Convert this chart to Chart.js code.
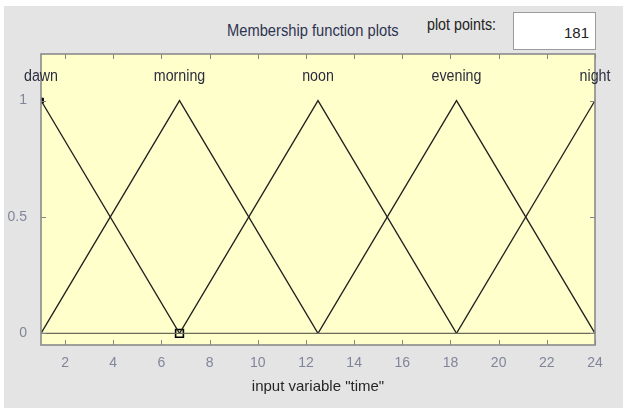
<!DOCTYPE html>
<html>
<head>
<meta charset="utf-8">
<script src="https://cdn.jsdelivr.net/npm/chart.js@4/dist/chart.umd.min.js"></script>
<style>
  html, body { margin: 0; padding: 0; background: #ffffff; }
  #wrap { position: relative; width: 628px; height: 408px; overflow: hidden; }
  #panel { position: absolute; left: 4px; top: 6px; width: 619px; height: 402px; background: #e4e4e4; }
  #mfc { position: absolute; left: 0; top: 0; }
  .lbl { position: absolute; font-family: "Liberation Sans", Arial, sans-serif; font-size: 15px; white-space: nowrap; line-height: 1; }
  #ttl { left: 227px; top: 22px; color: #2e3450; transform-origin: 0 50%; transform: scale(0.98, 1.1); }
  #pp { left: 427px; top: 17px; color: #222; font-size: 14px; transform-origin: 0 50%; transform: scale(1.02, 1.15); }
  #box { position: absolute; left: 513px; top: 12px; width: 83px; height: 38px; background: #fff;
         border: 1px solid #9a9a9a; box-sizing: border-box; }
  #box span { position: absolute; right: 6px; top: 12px; font-family: "Liberation Sans", Arial, sans-serif;
              font-size: 15px; color: #222; line-height: 1; }
</style>
</head>
<body>
<div id="wrap">
  <div id="panel"></div>
  <div class="lbl" id="ttl">Membership function plots</div>
  <div class="lbl" id="pp">plot points:</div>
  <div id="box"><span id="ppv"></span></div>
  <canvas id="mfc" width="628" height="408"></canvas>
</div>
<script>
// Input variable "time": five triangular membership functions [a, b, c]
const mfNames = ['dawn', 'morning', 'noon', 'evening', 'night'];
const mfParams = [
  [-4.75, 1, 6.75],
  [1, 6.75, 12.5],
  [6.75, 12.5, 18.25],
  [12.5, 18.25, 24],
  [18.25, 24, 29.75]
];
const xRange = [1, 24];
const yRange = [-0.05, 1.2];
const xTicks = [2, 4, 6, 8, 10, 12, 14, 16, 18, 20, 22, 24];
const yTicks = [0, 0.5, 1];
const plotPoints = 181;
const xLabel = 'input variable "time"';

document.getElementById('ppv').textContent = String(plotPoints);

const FONT = '"Liberation Sans", Arial, sans-serif';

// one dataset per membership function: vertices of the triangle
const mfSets = mfParams.map((p, i) => ({
  label: mfNames[i],
  data: [{x: p[0], y: 0}, {x: p[1], y: 1}, {x: p[2], y: 0}],
  borderColor: '#222222',
  borderWidth: 1.3,
  pointRadius: 0,
  tension: 0,
  fill: false
}));

// vertex handles of the selected function (dawn)
const selected = 0;
const handleSets = [
  {
    label: 'peak handle',
    data: [{x: xRange[0], y: 1}],
    showLine: false,
    pointStyle: 'rect',
    pointRadius: 3.4,
    pointBackgroundColor: '#000',
    pointBorderColor: '#000',
    pointBorderWidth: 1
  },
  {
    label: 'foot handle',
    data: [{x: mfParams[selected][2], y: 0}],
    showLine: false,
    pointStyle: 'rect',
    pointRadius: 5.5,
    pointBackgroundColor: 'rgba(0,0,0,0)',
    pointBorderColor: '#000',
    pointBorderWidth: 1.6
  }
];

const zeroLine = {
  label: 'zero',
  data: [{x: xRange[0], y: 0}, {x: xRange[1], y: 0}],
  borderColor: '#6a6a58',
  borderWidth: 1.4,
  pointRadius: 0
};

// yellow axes background, box and inward tick marks
const axesDecor = {
  id: 'axesDecor',
  beforeDatasetsDraw(chart) {
    const {ctx, chartArea: a} = chart;
    ctx.save();
    ctx.fillStyle = '#ffffcc';
    ctx.fillRect(a.left, a.top, a.right - a.left, a.bottom - a.top);
    ctx.restore();
  },
  afterDatasetsDraw(chart) {
    const {ctx, chartArea: a, scales} = chart;
    ctx.save();
    ctx.strokeStyle = '#858585';
    ctx.lineWidth = 1;
    ctx.beginPath();
    xTicks.forEach(v => {
      const px = Math.round(scales.x.getPixelForValue(v)) + 0.5;
      ctx.moveTo(px, a.bottom); ctx.lineTo(px, a.bottom - 5);
      ctx.moveTo(px, a.top); ctx.lineTo(px, a.top + 5);
    });
    yTicks.forEach(v => {
      const py = Math.round(scales.y.getPixelForValue(v)) + 0.5;
      ctx.moveTo(a.left, py); ctx.lineTo(a.left + 5, py);
      ctx.moveTo(a.right, py); ctx.lineTo(a.right - 5, py);
    });
    ctx.stroke();
    ctx.lineWidth = 1.6;
    ctx.strokeStyle = '#8a8a8a';
    ctx.strokeRect(a.left, a.top, a.right - a.left, a.bottom - a.top);
    ctx.restore();
  },
  afterDraw(chart) {
    const {ctx, scales} = chart;
    ctx.save();
    ctx.font = '15px ' + FONT;
    ctx.fillStyle = '#2b2e3c';
    ctx.textAlign = 'center';
    ctx.textBaseline = 'middle';
    mfParams.forEach((p, i) => {
      const px = scales.x.getPixelForValue(p[1]);
      ctx.save();
      ctx.translate(px, 76);
      ctx.scale(0.95, 1.1);
      ctx.fillText(mfNames[i], 0, 0);
      ctx.restore();
    });
    ctx.restore();
  }
};

new Chart(document.getElementById('mfc'), {
  type: 'line',
  data: { datasets: [zeroLine, ...mfSets, ...handleSets] },
  options: {
    responsive: false,
    animation: false,
    parsing: false,
    layout: { padding: { left: 0, top: 54, right: 33, bottom: 0 } },
    plugins: { legend: { display: false }, tooltip: { enabled: false } },
    scales: {
      x: {
        type: 'linear',
        min: xRange[0],
        max: xRange[1],
        afterBuildTicks: s => { s.ticks = xTicks.map(v => ({value: v})); },
        afterFit: s => { s.height = 63; },
        grid: { display: false },
        border: { display: false },
        ticks: { font: { family: FONT, size: 14 }, color: '#80859a', padding: 2, maxRotation: 0,
                 callback: v => String(v) },
        title: {
          display: true,
          text: xLabel,
          font: { family: FONT, size: 15 },
          color: '#262626',
          padding: { top: 2, bottom: 12 }
        }
      },
      y: {
        type: 'linear',
        min: yRange[0],
        max: yRange[1],
        afterBuildTicks: s => { s.ticks = yTicks.map(v => ({value: v})); },
        afterFit: s => { s.width = 41; },
        grid: { display: false },
        border: { display: false },
        ticks: { font: { family: FONT, size: 14 }, color: '#80859a', padding: 6,
                 callback: v => String(v) }
      }
    }
  },
  plugins: [axesDecor]
});
</script>
</body>
</html>
